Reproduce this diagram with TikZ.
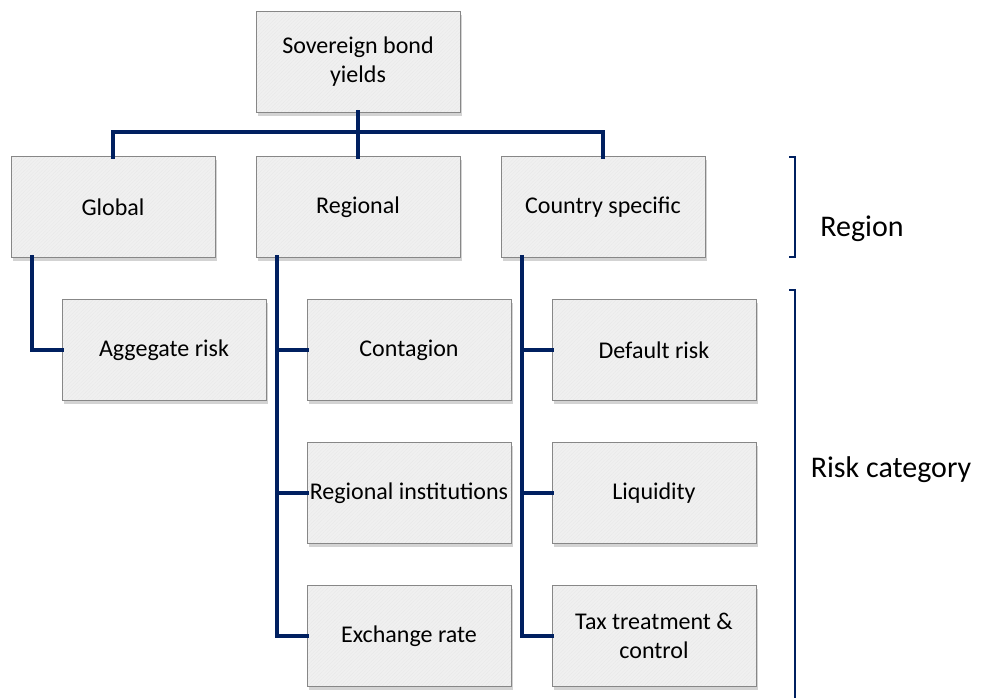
\documentclass[tikz,border=0pt]{standalone}
\usepackage{fontspec}
\setmainfont{Carlito}
\usetikzlibrary{patterns.meta,shadows}
\definecolor{navy}{RGB}{0,32,96}
\definecolor{boxfill}{RGB}{240,240,240}
\definecolor{boxline}{RGB}{135,135,135}
\tikzset{
  box/.style={fill=boxfill, draw=none,
    minimum width=204pt, minimum height=101pt, inner sep=2pt,
    align=center, font=\fontsize{24}{29}\selectfont,
    drop shadow={opacity=0.35, shadow xshift=2pt, shadow yshift=-3pt},
    postaction={pattern={Lines[angle=45,distance=2.5pt,line width=0.35pt]}, pattern color=black!9},
    postaction={draw=boxline, line width=0.9pt}},
  conn/.style={draw=navy, line width=4.5pt, line join=miter, line cap=rect},
  brk/.style={draw=navy, line width=1.3pt},
  side/.style={font=\fontsize{30}{36}\selectfont}
}
\begin{document}
\begin{tikzpicture}[x=1pt,y=-1pt]
\useasboundingbox (0,0) rectangle (981,697);
\coordinate (bar) at (358,132);
\node[box] (top) at (358,62) {Sovereign bond\\yields};
\node[box] (glob) at (113,207) {Global};
\node[box] (reg) at (358,207) {Regional};
\node[box] (cty) at (603,207) {Country specific};
\node[box] (agg) at (164,350) {Aggegate risk};
\node[box] (cont) at (409,350) {Contagion};
\node[box] (inst) at (409,493) {Regional institutions};
\node[box] (exch) at (409,636) {Exchange rate};
\node[box] (dflt) at (654,350) {Default risk};
\node[box] (liq) at (654,493) {Liquidity};
\node[box] (tax) at (654,636) {Tax treatment \&\\control};
\draw[conn] (top.south) -- (bar);
\draw[conn] (glob.north) |- (bar) -| (cty.north);
\draw[conn] (reg.north) -- (bar);
\coordinate (gt) at ([xshift=21pt]glob.south west);
\coordinate (rt) at ([xshift=21pt]reg.south west);
\coordinate (ct) at ([xshift=21pt]cty.south west);
\draw[conn] (gt) |- (agg.west);
\draw[conn] (rt) |- (exch.west);
\draw[conn] (cont.west) -- (cont.west -| rt);
\draw[conn] (inst.west) -- (inst.west -| rt);
\draw[conn] (ct) |- (tax.west);
\draw[conn] (dflt.west) -- (dflt.west -| ct);
\draw[conn] (liq.west) -- (liq.west -| ct);
\coordinate (b1) at (789,157);
\coordinate (b2) at (789,257);
\coordinate (b3) at (789,290);
\coordinate (b4) at (789,702);
\draw[brk] (b1) -- ++(6,0) |- (b2);
\draw[brk] (b3) -- ++(6,0) |- (b4);
\node[side] (lreg) at (862,229) {Region};
\node[side] (lrisk) at (891,470) {Risk category};
\end{tikzpicture}
\end{document}
